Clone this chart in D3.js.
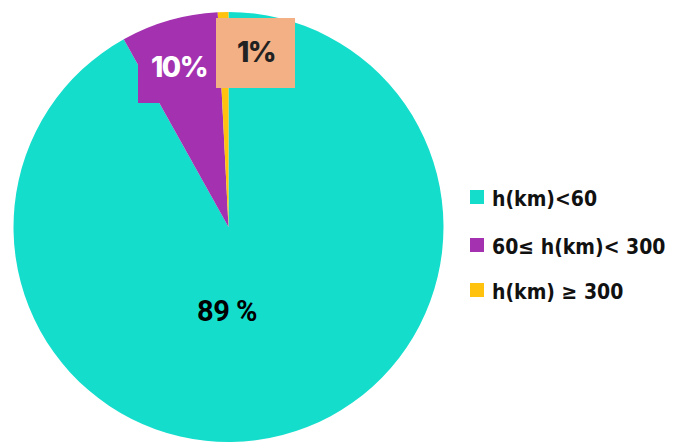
<!DOCTYPE html>
<html><head><meta charset="utf-8">
<script src="https://cdn.jsdelivr.net/npm/d3@7"></script>
<style>body{margin:0;background:#fff}svg{display:block}
.lg{font-family:'DejaVu Sans';font-weight:bold;font-size:21px;fill:#111}
.bx{font-family:Inter,'Open Sans',sans-serif;font-weight:800;font-size:28px}
</style>
</head><body>
<svg id="c" width="682" height="442"></svg>
<script>
const categories = ["h(km)<60", "60≤ h(km)< 300", "h(km) ≥ 300"];
const values = [91.9, 7.3, 0.8];           // slice shares as drawn
const labels = ["89 %", "10%", "1%"];       // printed labels
const colors = ["#14DDCC", "#A331B0", "#FFC20E"];

const svg = d3.select("#c");
const cx = 228.5, cy = 227, r = 215;
const pie = d3.pie().sort(null).value(d => d)(values);
const arc = d3.arc().innerRadius(0).outerRadius(r);
const g = svg.append("g").attr("transform", `translate(${cx},${cy})`);
g.selectAll("path").data(pie).join("path")
  .attr("d", arc).attr("fill", (d, i) => colors[i]);

// label boxes
svg.append("rect").attr("x", 138).attr("y", 32).attr("width", 78).attr("height", 71).attr("fill", colors[1]);
svg.append("rect").attr("x", 216).attr("y", 18).attr("width", 79).attr("height", 70).attr("fill", "#F2B084");

svg.append("text").attr("class", "bx").attr("x", 179).attr("y", 77).attr("text-anchor", "middle")
  .attr("fill", "#fff").attr("letter-spacing", -1.5).text(labels[1]);
svg.append("text").attr("class", "bx").attr("x", 256).attr("y", 62).attr("text-anchor", "middle")
  .attr("fill", "#222").attr("letter-spacing", -1.5).text(labels[2]);
svg.append("text").attr("x", 227).attr("y", 321).attr("text-anchor", "middle")
  .attr("font-family", "Roboto").attr("font-weight", 700).attr("font-size", 29)
  .attr("fill", "#000").attr("letter-spacing", -0.5).text(labels[0]);

// legend
const ly = [190, 238, 283];
const lg = svg.append("g");
categories.forEach((c, i) => {
  lg.append("rect").attr("x", 470).attr("y", ly[i]).attr("width", 14).attr("height", 14).attr("fill", colors[i]);
  lg.append("text").attr("class", "lg")
    .attr("transform", `translate(492,${ly[i] + 16}) scale(0.9,1)`).text(c);
});
</script>
</body></html>
